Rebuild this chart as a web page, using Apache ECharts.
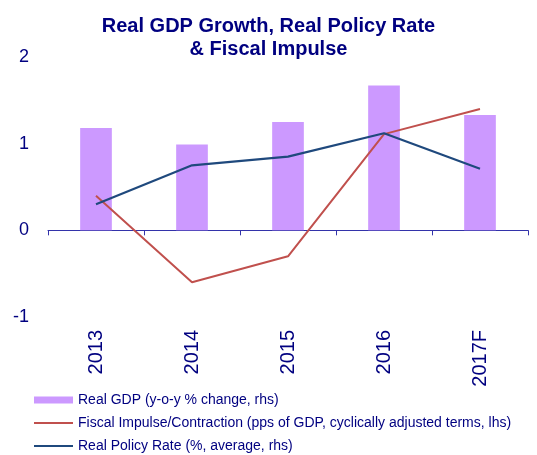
<!DOCTYPE html>
<html>
<head>
<meta charset="utf-8">
<script src="https://cdn.jsdelivr.net/npm/echarts@6/dist/echarts.min.js"></script>
<style>
  html, body { margin: 0; padding: 0; background: #fff; }
  #chart { width: 537px; height: 455px; }
</style>
</head>
<body>
<div id="chart"></div>
<script>
// Categories and series values
const years = ['2013', '2014', '2015', '2016', '2017F'];
const realGdp = [1.18, 0.99, 1.25, 1.67, 1.33];
const fiscalImpulse = [0.40, -0.60, -0.30, 1.11, 1.40];
const realPolicyRate = [0.30, 0.75, 0.85, 1.12, 0.71];

const NAVY = '#000080';
const FONT = 'Liberation Sans, Arial, sans-serif';
// thin bar used as the legend marker of the line series
const LINE_ICON = 'path://M0,0h38v2h-38z';

const chart = echarts.init(document.getElementById('chart'));
chart.setOption({
  animation: false,
  textStyle: { fontFamily: FONT },
  title: {
    text: 'Real GDP Growth, Real Policy Rate\n& Fiscal Impulse',
    left: 'center',
    top: 10,
    padding: [5, 5, 5, 12],
    textStyle: { color: NAVY, fontSize: 20, fontWeight: 'bold', lineHeight: 23, fontFamily: FONT }
  },
  grid: { left: 48, right: 9, top: 57, bottom: 138, containLabel: false },
  legend: {
    orient: 'vertical',
    left: 29,
    top: 388,
    height: 90,
    itemWidth: 39,
    itemHeight: 7,
    itemGap: 9,
    textStyle: { color: NAVY, fontSize: 14, lineHeight: 14, fontFamily: FONT },
    data: [
      { name: 'Real GDP (y-o-y % change, rhs)', icon: 'rect' },
      { name: 'Fiscal Impulse/Contraction (pps of GDP, cyclically adjusted terms, lhs)', icon: LINE_ICON },
      { name: 'Real Policy Rate (%, average, rhs)', icon: LINE_ICON }
    ]
  },
  xAxis: [
    {
      type: 'category',
      data: years,
      axisLine: { onZero: true, lineStyle: { color: '#3333AA', width: 1 } },
      axisTick: { show: true, alignWithLabel: false, length: 5, lineStyle: { color: '#3333AA' } },
      axisLabel: { show: false }
    },
    {
      type: 'category',
      data: years,
      position: 'bottom',
      axisLine: { show: false },
      axisTick: { show: false },
      axisLabel: { rotate: 90, margin: 13, color: NAVY, fontSize: 20, fontFamily: FONT }
    }
  ],
  yAxis: {
    type: 'value',
    min: -1,
    max: 2,
    interval: 1,
    axisLine: { show: false },
    axisTick: { show: false },
    splitLine: { show: false },
    axisLabel: { color: NAVY, fontSize: 18, margin: 19, fontFamily: FONT }
  },
  series: [
    {
      name: 'Real GDP (y-o-y % change, rhs)',
      type: 'bar',
      data: realGdp,
      barWidth: '33%',
      itemStyle: { color: '#CC99FF' }
    },
    {
      name: 'Fiscal Impulse/Contraction (pps of GDP, cyclically adjusted terms, lhs)',
      type: 'line',
      data: fiscalImpulse,
      symbol: 'none',
      lineStyle: { color: '#C0504D', width: 2 },
      itemStyle: { color: '#C0504D' }
    },
    {
      name: 'Real Policy Rate (%, average, rhs)',
      type: 'line',
      data: realPolicyRate,
      symbol: 'none',
      lineStyle: { color: '#1F497D', width: 2.2 },
      itemStyle: { color: '#1F497D' }
    }
  ]
});
</script>
</body>
</html>
